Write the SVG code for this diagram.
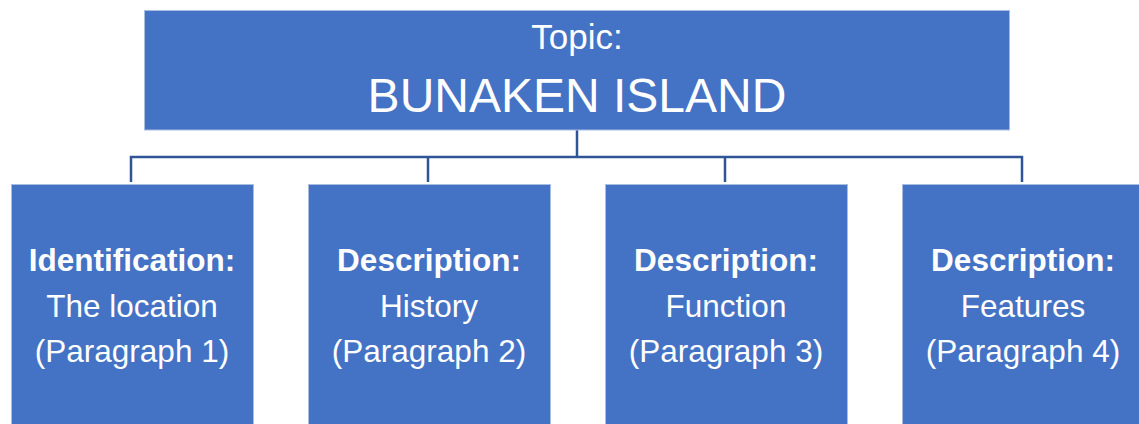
<svg xmlns="http://www.w3.org/2000/svg" width="1139" height="424" viewBox="0 0 1139 424">
<style>
.box{fill:#4472C4;stroke:#A9BDE3;stroke-width:1}
.conn{fill:none;stroke:#2F5597;stroke-width:2.5}
text{font-family:"Liberation Sans",Arial,sans-serif;fill:#ffffff;text-anchor:middle}
.b{font-weight:bold;font-size:31.5px}
.r{font-size:31.5px}
</style>
<rect width="1139" height="424" fill="#ffffff"/>
<g id="connectors">
<path class="conn" d="M577,130 V157 M131,182 V157 H1022 V182 M428,157 V182 M725,157 V182"/>
</g>
<g id="topic">
<rect class="box" x="144.5" y="10.5" width="865" height="119.5"/>
<text x="577" y="49" style="font-size:35px">Topic:</text>
<text x="577" y="112" style="font-size:48px">BUNAKEN ISLAND</text>
</g>
<g id="p1">
<rect class="box" x="11.5" y="184.5" width="242" height="245"/>
<text class="b" x="132" y="271">Identification:</text>
<text class="r" x="132" y="317">The location</text>
<text class="r" x="132" y="362">(Paragraph 1)</text>
</g>
<g id="p2">
<rect class="box" x="308.5" y="184.5" width="242" height="245"/>
<text class="b" x="429" y="271">Description:</text>
<text class="r" x="429" y="317">History</text>
<text class="r" x="429" y="362">(Paragraph 2)</text>
</g>
<g id="p3">
<rect class="box" x="605.5" y="184.5" width="242" height="245"/>
<text class="b" x="726" y="271">Description:</text>
<text class="r" x="726" y="317">Function</text>
<text class="r" x="726" y="362">(Paragraph 3)</text>
</g>
<g id="p4">
<rect class="box" x="902.5" y="184.5" width="242" height="245"/>
<text class="b" x="1023" y="271">Description:</text>
<text class="r" x="1023" y="317">Features</text>
<text class="r" x="1023" y="362">(Paragraph 4)</text>
</g>
</svg>
